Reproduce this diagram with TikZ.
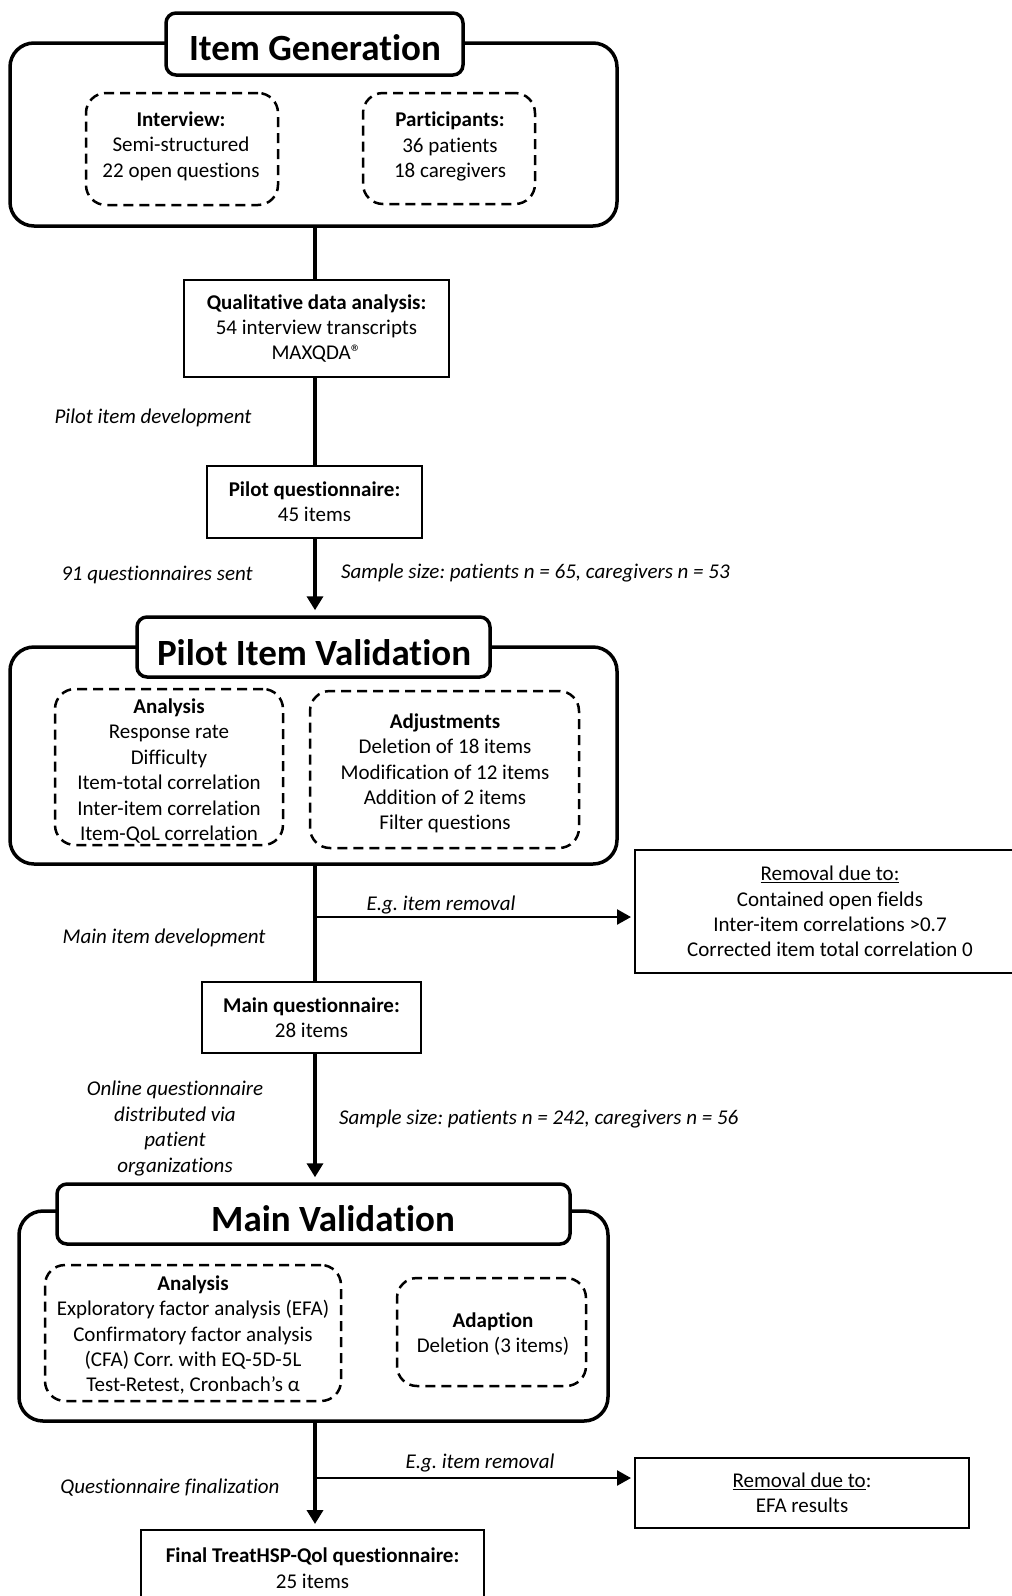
\documentclass[tikz,border=0pt]{standalone}
\usepackage{fontspec}
\setmainfont{Carlito}[RawFeature=-liga]
\usetikzlibrary{arrows.meta}
\frenchspacing
\begin{document}
\begin{tikzpicture}[x=1pt,y=-1pt,
  txt/.style={font=\fontsize{21}{25.4}\selectfont, align=center, inner sep=0pt},
  lbl/.style={font=\fontsize{21}{25.4}\selectfont\itshape, align=center, inner sep=0pt},
  outer/.style={draw, line width=3.5pt, rounded corners=24pt, inner sep=0pt},
  titlebox/.style={draw, fill=white, line width=3.5pt, rounded corners=10pt, inner sep=0pt},
  titletxt/.style={inner sep=0pt, font=\fontsize{37}{44}\selectfont\bfseries},
  dbox/.style={draw, dash pattern=on 10pt off 6pt, line width=2.5pt, rounded corners=20pt, inner sep=0pt},
  rbox/.style={draw, line width=2pt, inner sep=0pt, font=\fontsize{21}{25.4}\selectfont, align=center},
  mainline/.style={line width=4.5pt},
  mainarrow/.style={line width=4.5pt, -{Triangle[length=14pt,width=16pt]}, shorten >=5pt},
  sidearrow/.style={line width=2.5pt, -{Triangle[length=14pt,width=15pt]}, shorten >=3pt}
]
\useasboundingbox (0,0) rectangle (1012,1596);
\coordinate (L) at (315,0);

% ---- Item Generation ----
\node[outer, minimum width=607pt, minimum height=183pt] (IG) at (313.5,134.5) {};
\node[titlebox, minimum width=297pt, minimum height=62pt] (IGt) at (314.5,44) {};
\node[titletxt] (IGtt) at (315,48) {Item Generation};
\node[dbox, minimum width=192pt, minimum height=112pt] (interview) at (182,149) {};
\node[txt] (interviewT) at (181,146) {\textbf{Interview:}\\Semi-structured\\22 open questions};
\node[dbox, minimum width=172pt, minimum height=111pt] (particip) at (449,148.5) {};
\node[txt] (participT) at (450,146.5) {\textbf{Participants:}\\36 patients\\18 caregivers};

% ---- Qualitative ----
\node[rbox, minimum width=265pt, minimum height=97pt] (qual) at (316.5,328.5)
  {\textbf{Qualitative data analysis:}\\54 interview transcripts\\MAXQDA®};
\node[rbox, minimum width=215pt, minimum height=72pt] (pilotq) at (314.5,502)
  {\textbf{Pilot questionnaire:}\\45 items};

\node[lbl] (l1) at (153,418) {Pilot item development};
\node[lbl] (l2) at (157,575) {91 questionnaires sent};
\node[lbl, anchor=west] (l3) at (341,573) {Sample size: patients n = 65, caregivers n = 53};

% ---- Pilot Item Validation ----
\node[outer, minimum width=607pt, minimum height=217pt] (PIV) at (313.5,755.5) {};
\node[titlebox, minimum width=353pt, minimum height=60pt] (PIVt) at (313.5,647) {};
\node[titletxt] (PIVtt) at (314,653) {Pilot Item Validation};
\node[dbox, minimum width=228pt, minimum height=156pt] (ana1) at (169,767) {};
\node[txt] (ana1T) at (169,771) {\textbf{Analysis}\\Response rate\\Difficulty\\Item-total correlation\\Inter-item correlation\\Item-QoL correlation};
\node[dbox, minimum width=269pt, minimum height=157pt] (adj) at (444.5,769.5) {};
\node[txt] (adjT) at (445,773.5) {\textbf{Adjustments}\\Deletion of 18 items\\Modification of 12 items\\Addition of 2 items\\Filter questions};

% ---- Removal 1 ----
\node[rbox, minimum width=390pt, minimum height=123pt] (rem1) at (830,911.5)
  {\underline{Removal due to:}\\Contained open fields\\Inter-item correlations >0.7\\Corrected item total correlation 0};
\node[lbl] (l4) at (441,905) {E.g. item removal};
\node[lbl] (l5) at (164,938) {Main item development};

\node[rbox, minimum width=219pt, minimum height=71pt] (mainq) at (311.5,1017.5)
  {\textbf{Main questionnaire:}\\28 items};
\node[lbl] (l6) at (175,1128.5) {Online questionnaire\\distributed via\\patient\\organizations};
\node[lbl, anchor=west] (l7) at (339,1119) {Sample size: patients n = 242, caregivers n = 56};

% ---- Main Validation ----
\node[outer, minimum width=589pt, minimum height=210pt] (MV) at (313.5,1316) {};
\node[titlebox, minimum width=513pt, minimum height=60pt] (MVt) at (313.5,1214) {};
\node[titletxt] (MVtt) at (333,1219) {Main Validation};
\node[dbox, minimum width=296pt, minimum height=136pt] (ana2) at (193,1333) {};
\node[txt] (ana2T) at (193,1335) {\textbf{Analysis}\\Exploratory factor analysis (EFA)\\Confirmatory factor analysis\\(CFA) Corr. with EQ-5D-5L\\Test-Retest, Cronbach’s α};
\node[dbox, minimum width=189pt, minimum height=108pt] (adapt) at (491.5,1332) {};
\node[txt] (adaptT) at (493,1334) {\textbf{Adaption}\\Deletion (3 items)};

% ---- Removal 2 / Final ----
\node[rbox, minimum width=334pt, minimum height=70pt] (rem2) at (802,1493)
  {\underline{Removal due to}:\\EFA results};
\node[lbl] (l8) at (480,1463) {E.g. item removal};
\node[lbl] (l9) at (170,1488) {Questionnaire finalization};
\node[rbox, minimum width=343pt, minimum height=76pt] (final) at (312.5,1568)
  {\textbf{Final TreatHSP-Qol questionnaire:}\\25 items};

% ---- connectors ----
\draw[mainline] (IG.south -| L) -- (qual.north -| L);
\draw[mainline] (qual.south -| L) -- (pilotq.north -| L);
\draw[mainarrow] (pilotq.south -| L) -- (PIVt.north -| L);
\draw[mainline] (PIV.south -| L) -- (mainq.north -| L);
\coordinate (b1) at (315,917);
\draw[sidearrow] (b1) -- (b1 -| rem1.west);
\draw[mainarrow] (mainq.south -| L) -- (MVt.north -| L);
\draw[mainarrow] (MV.south -| L) -- (final.north -| L);
\coordinate (b2) at (315,1478);
\draw[sidearrow] (b2) -- (b2 -| rem2.west);
\end{tikzpicture}
\end{document}
